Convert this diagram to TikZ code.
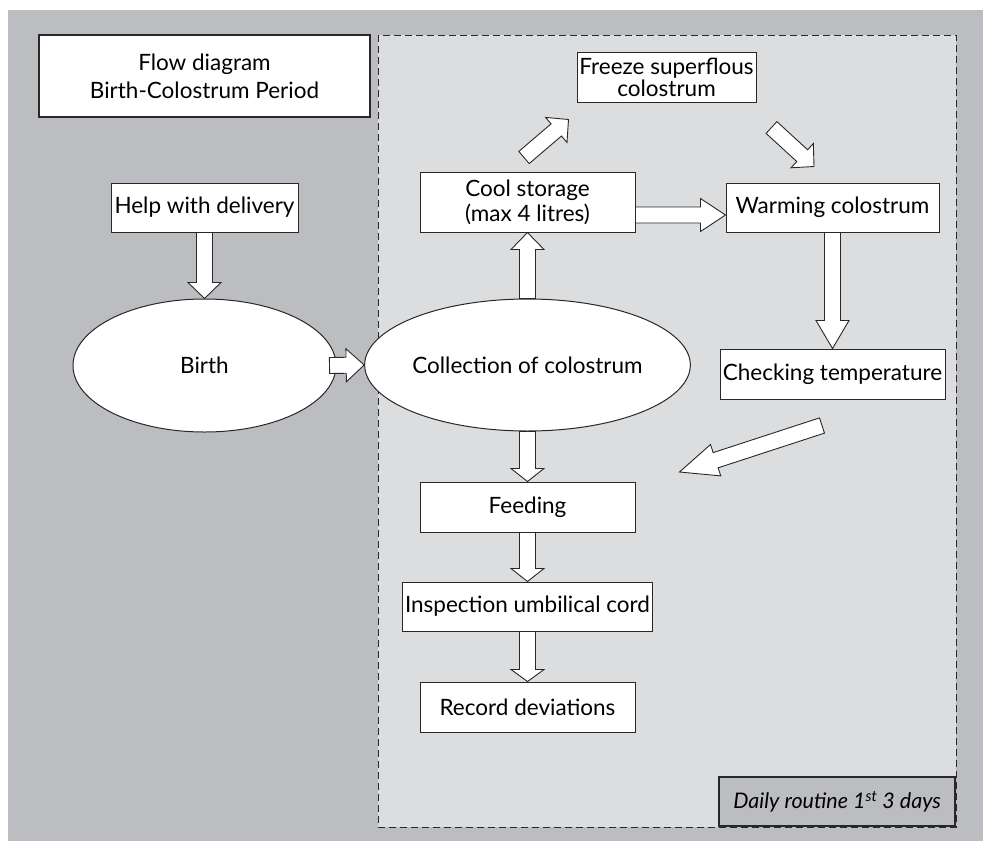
\documentclass[tikz,border=0pt]{standalone}
\usepackage{fontspec}
\setmainfont{Lato}
\usepackage{tikz}
\usetikzlibrary{calc,positioning,shapes.geometric}
\definecolor{bgdark}{RGB}{188,189,193}
\definecolor{bglight}{RGB}{220,221,223}
\definecolor{edge}{RGB}{40,40,40}

% hollow block arrow from #2 to #3, #1 = head length
\newcommand{\blockarrow}[3][15]{%
  \draw[barrow] let \p1=($(#3)-(#2)$), \n1={atan2(\y1,\x1)}, \n2={veclen(\x1,\y1)-#1} in
    (#2) ++(\n1-90:8pt) -- ++(\n1:\n2) -- ++(\n1-90:8.5pt) -- (#3)
    -- ($(#2)+(\n1:\n2)+(\n1+90:16.5pt)$) -- ++(\n1-90:8.5pt) -- ++(\n1+180:\n2) -- cycle;}

\begin{document}
\begin{tikzpicture}[x=1pt,y=-1pt,
  box/.style={draw=edge,fill=white,line width=1pt,align=center,inner sep=0pt,
              font=\fontsize{22.5}{25}\selectfont},
  oval/.style={box,ellipse},
  barrow/.style={draw=edge,fill=white,line width=0.9pt,line join=miter}]
\useasboundingbox[fill=white] (0,0) rectangle (983,841);
\fill[bgdark] (8,10) rectangle (983,841);
\draw[fill=bglight,draw=edge,line width=1pt,dash pattern=on 7pt off 4pt] (378,35) rectangle (956,827);

\node[box,line width=2.2pt,minimum width=331pt,minimum height=82pt,font=\fontsize{22.5}{28}\selectfont] (title) at (204.5,76) {Flow diagram\\Birth-Colostrum Period};
\node[oval,minimum width=263pt,minimum height=133pt] (birth) at (204.5,365.5) {Birth};
\node[box,above=66pt of birth,minimum width=187pt,minimum height=49pt] (help) {Help with delivery};
\node[oval,minimum width=263pt,minimum height=132pt] (coll) at (527.5,365) {Collection of colostrum};
\node[box,above=66pt of coll,minimum width=215pt,minimum height=60pt] (cool) {Cool storage\\(max 4 litres)};
\node[box,minimum width=179pt,minimum height=50pt,font=\fontsize{22.5}{22}\selectfont] (freeze) at (666.5,77) {Freeze superflous\\colostrum};
\node[box,anchor=south west,minimum width=213pt,minimum height=49pt] (warm) at ([xshift=90pt]cool.south east) {Warming colostrum};
\node[box,below=116pt of warm,minimum width=225pt,minimum height=50pt] (check) {Checking temperature};
\node[box,below=50pt of coll,minimum width=215pt,minimum height=50pt] (feed) {Feeding};
\node[box,below=49pt of feed,minimum width=250pt,minimum height=49pt] (insp) {Inspection umbilical cord};
\node[box,below=50pt of insp,minimum width=215pt,minimum height=50pt] (record) {Record deviations};
\node[box,fill=bgdark,line width=1.6pt,anchor=south east,minimum width=236pt,minimum height=49pt,
      font=\fontsize{21.5}{25}\selectfont\itshape] (daily) at (956,827) {Daily routine 1\textsuperscript{st} 3 days};

% free ends of the diagonal arrows
\coordinate (brt) at ([xshift=-7pt]birth.east);
\coordinate (clt) at ([yshift=-13pt]cool.east);
\coordinate (clh) at (warm.west |- clt);
\coordinate (fzt) at ([shift={(-3.5,-14)}]cool.north);
\coordinate (fzh) at ([shift={(-8,17)}]freeze.south west);
\coordinate (wmt) at ([shift={(15,25)}]freeze.south east);
\coordinate (wmh) at ([shift={(-18.5,-16)}]warm.north);
\coordinate (ckt) at ([shift={(-10.5,26)}]check.south);
\coordinate (ckh) at ([shift={(44,-35)}]feed.east);

\blockarrow[16]{help.south}{birth.north}
\blockarrow[18]{brt}{coll.west}
\blockarrow[17]{coll.north}{cool.south}
\blockarrow[25]{clt}{clh}
\blockarrow[16]{fzt}{fzh}
\blockarrow[16]{wmt}{wmh}
\blockarrow[28]{warm.south}{check.north}
\blockarrow[38]{ckt}{ckh}
\blockarrow[13]{coll.south}{feed.north}
\blockarrow[13]{feed.south}{insp.north}
\blockarrow[12]{insp.south}{record.north}
\end{tikzpicture}
\end{document}
